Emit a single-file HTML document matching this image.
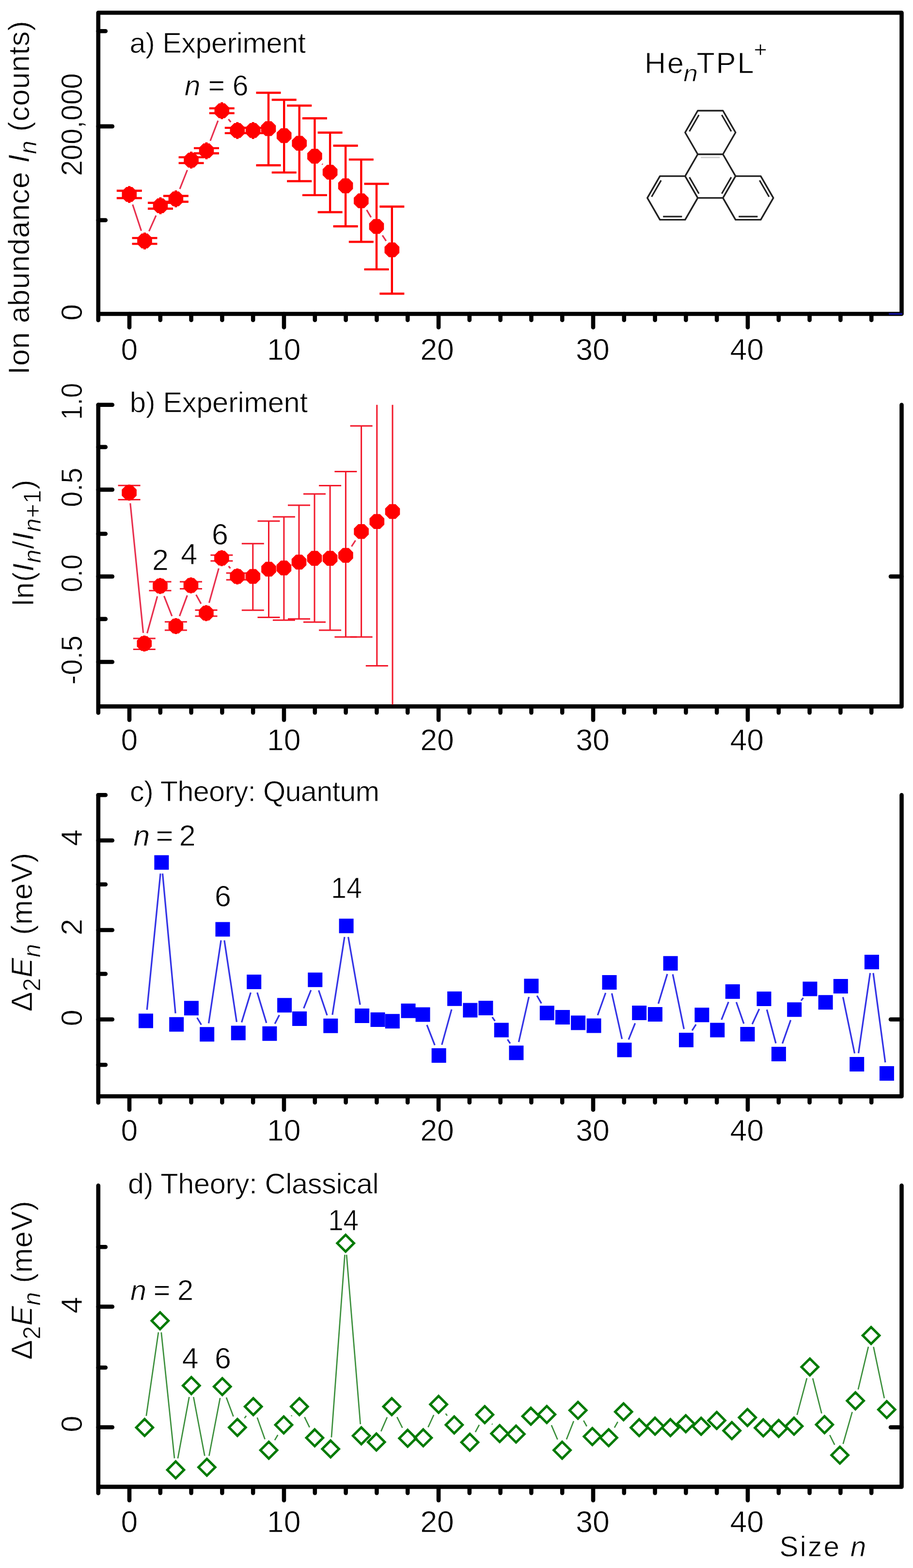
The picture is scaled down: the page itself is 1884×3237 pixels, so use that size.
<!DOCTYPE html>
<html><head><meta charset="utf-8"><title>He_nTPL+ ion abundance and energy differences</title>
<style>
html,body{margin:0;padding:0;background:#fff;}
svg{display:block;}
text{font-family:"Liberation Sans", Arial, sans-serif;fill:#000;stroke:#fff;stroke-width:0.8px;}
</style></head>
<body>
<svg width="1884" height="3237" viewBox="0 0 1884 3237">
<rect width="1884" height="3237" fill="#fff"/>
<path d="M202.8,661.0 L202.8,26.2 L1860.5,26.2 L1860.5,648.0 L202.8,648.0" fill="none" stroke="#000" stroke-width="8.6" stroke-linejoin="round" stroke-linecap="round"/>
<line x1="267.0" y1="648.0" x2="267.0" y2="675.7" stroke="#000" stroke-width="8.6" stroke-linecap="round" />
<line x1="330.8" y1="648.0" x2="330.8" y2="660.7" stroke="#000" stroke-width="8.6" stroke-linecap="round" />
<line x1="394.6" y1="648.0" x2="394.6" y2="660.7" stroke="#000" stroke-width="8.6" stroke-linecap="round" />
<line x1="458.4" y1="648.0" x2="458.4" y2="660.7" stroke="#000" stroke-width="8.6" stroke-linecap="round" />
<line x1="522.2" y1="648.0" x2="522.2" y2="660.7" stroke="#000" stroke-width="8.6" stroke-linecap="round" />
<line x1="586.0" y1="648.0" x2="586.0" y2="675.7" stroke="#000" stroke-width="8.6" stroke-linecap="round" />
<line x1="649.8" y1="648.0" x2="649.8" y2="660.7" stroke="#000" stroke-width="8.6" stroke-linecap="round" />
<line x1="713.6" y1="648.0" x2="713.6" y2="660.7" stroke="#000" stroke-width="8.6" stroke-linecap="round" />
<line x1="777.4" y1="648.0" x2="777.4" y2="660.7" stroke="#000" stroke-width="8.6" stroke-linecap="round" />
<line x1="841.2" y1="648.0" x2="841.2" y2="660.7" stroke="#000" stroke-width="8.6" stroke-linecap="round" />
<line x1="905.0" y1="648.0" x2="905.0" y2="675.7" stroke="#000" stroke-width="8.6" stroke-linecap="round" />
<line x1="968.8" y1="648.0" x2="968.8" y2="660.7" stroke="#000" stroke-width="8.6" stroke-linecap="round" />
<line x1="1032.6" y1="648.0" x2="1032.6" y2="660.7" stroke="#000" stroke-width="8.6" stroke-linecap="round" />
<line x1="1096.4" y1="648.0" x2="1096.4" y2="660.7" stroke="#000" stroke-width="8.6" stroke-linecap="round" />
<line x1="1160.2" y1="648.0" x2="1160.2" y2="660.7" stroke="#000" stroke-width="8.6" stroke-linecap="round" />
<line x1="1224.0" y1="648.0" x2="1224.0" y2="675.7" stroke="#000" stroke-width="8.6" stroke-linecap="round" />
<line x1="1287.8" y1="648.0" x2="1287.8" y2="660.7" stroke="#000" stroke-width="8.6" stroke-linecap="round" />
<line x1="1351.6" y1="648.0" x2="1351.6" y2="660.7" stroke="#000" stroke-width="8.6" stroke-linecap="round" />
<line x1="1415.4" y1="648.0" x2="1415.4" y2="660.7" stroke="#000" stroke-width="8.6" stroke-linecap="round" />
<line x1="1479.2" y1="648.0" x2="1479.2" y2="660.7" stroke="#000" stroke-width="8.6" stroke-linecap="round" />
<line x1="1543.0" y1="648.0" x2="1543.0" y2="675.7" stroke="#000" stroke-width="8.6" stroke-linecap="round" />
<line x1="1606.8" y1="648.0" x2="1606.8" y2="660.7" stroke="#000" stroke-width="8.6" stroke-linecap="round" />
<line x1="1670.6" y1="648.0" x2="1670.6" y2="660.7" stroke="#000" stroke-width="8.6" stroke-linecap="round" />
<line x1="1734.4" y1="648.0" x2="1734.4" y2="660.7" stroke="#000" stroke-width="8.6" stroke-linecap="round" />
<line x1="1798.2" y1="648.0" x2="1798.2" y2="660.7" stroke="#000" stroke-width="8.6" stroke-linecap="round" />
<line x1="202.8" y1="260.9" x2="231.8" y2="260.9" stroke="#000" stroke-width="8.6" stroke-linecap="round" />
<line x1="202.8" y1="64.2" x2="217.8" y2="64.2" stroke="#000" stroke-width="8.6" stroke-linecap="round" />
<line x1="202.8" y1="454.5" x2="217.8" y2="454.5" stroke="#000" stroke-width="8.6" stroke-linecap="round" />
<text x="267.0" y="743.2" font-size="62.5" text-anchor="middle">0</text>
<text x="585.8" y="743.2" font-size="62.5" text-anchor="middle">10</text>
<text x="902.1" y="743.2" font-size="62.5" text-anchor="middle">20</text>
<text x="1223.0" y="743.2" font-size="62.5" text-anchor="middle">30</text>
<text x="1541.2" y="743.2" font-size="62.5" text-anchor="middle">40</text>
<path d="M273.7,422.3L291.6,476.5M307.5,477.3L322.0,444.9M371.0,390.1L386.5,351.0M433.9,290.7L449.9,249.1M471.4,245.9L476.2,252.1M664.6,338.4L665.9,339.6M756.6,433.4L765.7,448.6M789.1,485.9L796.7,497.4" fill="none" stroke="#e8304e" stroke-width="3.2"/>
<line x1="266.8" y1="393.8" x2="266.8" y2="409.0" stroke="#ff0000" stroke-width="4.4" stroke-linecap="butt" />
<line x1="240.8" y1="393.8" x2="292.8" y2="393.8" stroke="#ff0000" stroke-width="4.4" stroke-linecap="butt" />
<line x1="240.8" y1="409.0" x2="292.8" y2="409.0" stroke="#ff0000" stroke-width="4.4" stroke-linecap="butt" />
<line x1="298.5" y1="491.4" x2="298.5" y2="503.4" stroke="#ff0000" stroke-width="4.4" stroke-linecap="butt" />
<line x1="272.5" y1="491.4" x2="324.5" y2="491.4" stroke="#ff0000" stroke-width="4.4" stroke-linecap="butt" />
<line x1="272.5" y1="503.4" x2="324.5" y2="503.4" stroke="#ff0000" stroke-width="4.4" stroke-linecap="butt" />
<line x1="331.0" y1="418.8" x2="331.0" y2="430.8" stroke="#ff0000" stroke-width="4.4" stroke-linecap="butt" />
<line x1="305.0" y1="418.8" x2="357.0" y2="418.8" stroke="#ff0000" stroke-width="4.4" stroke-linecap="butt" />
<line x1="305.0" y1="430.8" x2="357.0" y2="430.8" stroke="#ff0000" stroke-width="4.4" stroke-linecap="butt" />
<line x1="362.9" y1="404.5" x2="362.9" y2="416.5" stroke="#ff0000" stroke-width="4.4" stroke-linecap="butt" />
<line x1="336.9" y1="404.5" x2="388.9" y2="404.5" stroke="#ff0000" stroke-width="4.4" stroke-linecap="butt" />
<line x1="336.9" y1="416.5" x2="388.9" y2="416.5" stroke="#ff0000" stroke-width="4.4" stroke-linecap="butt" />
<line x1="394.6" y1="324.6" x2="394.6" y2="336.6" stroke="#ff0000" stroke-width="4.4" stroke-linecap="butt" />
<line x1="368.6" y1="324.6" x2="420.6" y2="324.6" stroke="#ff0000" stroke-width="4.4" stroke-linecap="butt" />
<line x1="368.6" y1="336.6" x2="420.6" y2="336.6" stroke="#ff0000" stroke-width="4.4" stroke-linecap="butt" />
<line x1="426.0" y1="305.9" x2="426.0" y2="316.5" stroke="#ff0000" stroke-width="4.4" stroke-linecap="butt" />
<line x1="400.0" y1="305.9" x2="452.0" y2="305.9" stroke="#ff0000" stroke-width="4.4" stroke-linecap="butt" />
<line x1="400.0" y1="316.5" x2="452.0" y2="316.5" stroke="#ff0000" stroke-width="4.4" stroke-linecap="butt" />
<line x1="457.8" y1="223.6" x2="457.8" y2="233.6" stroke="#ff0000" stroke-width="4.4" stroke-linecap="butt" />
<line x1="431.8" y1="223.6" x2="483.8" y2="223.6" stroke="#ff0000" stroke-width="4.4" stroke-linecap="butt" />
<line x1="431.8" y1="233.6" x2="483.8" y2="233.6" stroke="#ff0000" stroke-width="4.4" stroke-linecap="butt" />
<line x1="489.8" y1="263.9" x2="489.8" y2="274.9" stroke="#ff0000" stroke-width="4.4" stroke-linecap="butt" />
<line x1="463.8" y1="263.9" x2="515.8" y2="263.9" stroke="#ff0000" stroke-width="4.4" stroke-linecap="butt" />
<line x1="463.8" y1="274.9" x2="515.8" y2="274.9" stroke="#ff0000" stroke-width="4.4" stroke-linecap="butt" />
<line x1="522.2" y1="263.9" x2="522.2" y2="274.9" stroke="#ff0000" stroke-width="4.4" stroke-linecap="butt" />
<line x1="496.2" y1="263.9" x2="548.2" y2="263.9" stroke="#ff0000" stroke-width="4.4" stroke-linecap="butt" />
<line x1="496.2" y1="274.9" x2="548.2" y2="274.9" stroke="#ff0000" stroke-width="4.4" stroke-linecap="butt" />
<line x1="554.0" y1="191.5" x2="554.0" y2="341.3" stroke="#ff0000" stroke-width="4.4" stroke-linecap="butt" />
<line x1="528.5" y1="191.5" x2="579.5" y2="191.5" stroke="#ff0000" stroke-width="4.4" stroke-linecap="butt" />
<line x1="528.5" y1="341.3" x2="579.5" y2="341.3" stroke="#ff0000" stroke-width="4.4" stroke-linecap="butt" />
<line x1="586.2" y1="206.0" x2="586.2" y2="356.1" stroke="#ff0000" stroke-width="4.4" stroke-linecap="butt" />
<line x1="560.7" y1="206.0" x2="611.7" y2="206.0" stroke="#ff0000" stroke-width="4.4" stroke-linecap="butt" />
<line x1="560.7" y1="356.1" x2="611.7" y2="356.1" stroke="#ff0000" stroke-width="4.4" stroke-linecap="butt" />
<line x1="617.7" y1="218.0" x2="617.7" y2="374.0" stroke="#ff0000" stroke-width="4.4" stroke-linecap="butt" />
<line x1="592.2" y1="218.0" x2="643.2" y2="218.0" stroke="#ff0000" stroke-width="4.4" stroke-linecap="butt" />
<line x1="592.2" y1="374.0" x2="643.2" y2="374.0" stroke="#ff0000" stroke-width="4.4" stroke-linecap="butt" />
<line x1="649.4" y1="244.2" x2="649.4" y2="402.9" stroke="#ff0000" stroke-width="4.4" stroke-linecap="butt" />
<line x1="623.9" y1="244.2" x2="674.9" y2="244.2" stroke="#ff0000" stroke-width="4.4" stroke-linecap="butt" />
<line x1="623.9" y1="402.9" x2="674.9" y2="402.9" stroke="#ff0000" stroke-width="4.4" stroke-linecap="butt" />
<line x1="681.1" y1="273.8" x2="681.1" y2="438.0" stroke="#ff0000" stroke-width="4.4" stroke-linecap="butt" />
<line x1="655.6" y1="273.8" x2="706.6" y2="273.8" stroke="#ff0000" stroke-width="4.4" stroke-linecap="butt" />
<line x1="655.6" y1="438.0" x2="706.6" y2="438.0" stroke="#ff0000" stroke-width="4.4" stroke-linecap="butt" />
<line x1="713.1" y1="300.8" x2="713.1" y2="467.3" stroke="#ff0000" stroke-width="4.4" stroke-linecap="butt" />
<line x1="687.6" y1="300.8" x2="738.6" y2="300.8" stroke="#ff0000" stroke-width="4.4" stroke-linecap="butt" />
<line x1="687.6" y1="467.3" x2="738.6" y2="467.3" stroke="#ff0000" stroke-width="4.4" stroke-linecap="butt" />
<line x1="745.3" y1="329.4" x2="745.3" y2="499.3" stroke="#ff0000" stroke-width="4.4" stroke-linecap="butt" />
<line x1="719.8" y1="329.4" x2="770.8" y2="329.4" stroke="#ff0000" stroke-width="4.4" stroke-linecap="butt" />
<line x1="719.8" y1="499.3" x2="770.8" y2="499.3" stroke="#ff0000" stroke-width="4.4" stroke-linecap="butt" />
<line x1="777.0" y1="379.5" x2="777.0" y2="556.1" stroke="#ff0000" stroke-width="4.4" stroke-linecap="butt" />
<line x1="751.5" y1="379.5" x2="802.5" y2="379.5" stroke="#ff0000" stroke-width="4.4" stroke-linecap="butt" />
<line x1="751.5" y1="556.1" x2="802.5" y2="556.1" stroke="#ff0000" stroke-width="4.4" stroke-linecap="butt" />
<line x1="808.8" y1="426.5" x2="808.8" y2="606.2" stroke="#ff0000" stroke-width="4.4" stroke-linecap="butt" />
<line x1="783.3" y1="426.5" x2="834.3" y2="426.5" stroke="#ff0000" stroke-width="4.4" stroke-linecap="butt" />
<line x1="783.3" y1="606.2" x2="834.3" y2="606.2" stroke="#ff0000" stroke-width="4.4" stroke-linecap="butt" />
<path d="M282.1,407.7L273.1,416.7L260.5,416.7L251.5,407.7L251.5,395.1L260.5,386.1L273.1,386.1L282.1,395.1ZM313.8,503.7L304.8,512.7L292.2,512.7L283.2,503.7L283.2,491.1L292.2,482.1L304.8,482.1L313.8,491.1ZM346.3,431.1L337.3,440.1L324.7,440.1L315.7,431.1L315.7,418.5L324.7,409.5L337.3,409.5L346.3,418.5ZM378.2,416.8L369.2,425.8L356.6,425.8L347.6,416.8L347.6,404.2L356.6,395.2L369.2,395.2L378.2,404.2ZM409.9,336.9L400.9,345.9L388.3,345.9L379.3,336.9L379.3,324.3L388.3,315.3L400.9,315.3L409.9,324.3ZM441.3,317.5L432.3,326.5L419.7,326.5L410.7,317.5L410.7,304.9L419.7,295.9L432.3,295.9L441.3,304.9ZM473.1,234.9L464.1,243.9L451.5,243.9L442.5,234.9L442.5,222.3L451.5,213.3L464.1,213.3L473.1,222.3ZM505.1,275.7L496.1,284.7L483.5,284.7L474.5,275.7L474.5,263.1L483.5,254.1L496.1,254.1L505.1,263.1ZM537.5,275.7L528.5,284.7L515.9,284.7L506.9,275.7L506.9,263.1L515.9,254.1L528.5,254.1L537.5,263.1ZM569.3,271.8L560.3,280.8L547.7,280.8L538.7,271.8L538.7,259.2L547.7,250.2L560.3,250.2L569.3,259.2ZM601.5,286.3L592.5,295.3L579.9,295.3L570.9,286.3L570.9,273.7L579.9,264.7L592.5,264.7L601.5,273.7ZM633.0,302.1L624.0,311.1L611.4,311.1L602.4,302.1L602.4,289.5L611.4,280.5L624.0,280.5L633.0,289.5ZM664.7,328.8L655.7,337.8L643.1,337.8L634.1,328.8L634.1,316.2L643.1,307.2L655.7,307.2L664.7,316.2ZM696.4,361.8L687.4,370.8L674.8,370.8L665.8,361.8L665.8,349.2L674.8,340.2L687.4,340.2L696.4,349.2ZM728.4,389.9L719.4,398.9L706.8,398.9L697.8,389.9L697.8,377.3L706.8,368.3L719.4,368.3L728.4,377.3ZM760.6,420.8L751.6,429.8L739.0,429.8L730.0,420.8L730.0,408.2L739.0,399.2L751.6,399.2L760.6,408.2ZM792.3,473.8L783.3,482.8L770.7,482.8L761.7,473.8L761.7,461.2L770.7,452.2L783.3,452.2L792.3,461.2ZM824.1,522.1L815.1,531.1L802.5,531.1L793.5,522.1L793.5,509.5L802.5,500.5L815.1,500.5L824.1,509.5Z" fill="#ff0000"/>
<path d="M264.3,383.9h5v35.0h-5zM296.0,479.9h5v35.0h-5zM328.5,407.3h5v35.0h-5zM360.4,393.0h5v35.0h-5zM392.1,313.1h5v35.0h-5zM423.5,293.7h5v35.0h-5zM455.3,211.1h5v35.0h-5zM487.3,251.9h5v35.0h-5zM519.7,251.9h5v35.0h-5z" fill="#ff0000"/>
<path d="M1517.8,273.5L1491.8,318.5L1439.8,318.5L1413.8,273.5L1439.8,228.5L1491.8,228.5ZM1517.8,363.6L1491.8,408.6L1439.8,408.6L1413.8,363.6L1439.8,318.5L1491.8,318.5ZM1439.8,408.6L1413.8,453.6L1361.8,453.6L1335.8,408.6L1361.8,363.6L1413.8,363.6ZM1595.8,408.6L1569.8,453.6L1517.8,453.6L1491.8,408.6L1517.8,363.6L1569.8,363.6Z" fill="none" stroke="#222" stroke-width="3.4" stroke-linejoin="round"/>
<line x1="1422.6" y1="271.2" x2="1442.2" y2="237.3" stroke="#222" stroke-width="3.2"/>
<line x1="1489.4" y1="237.3" x2="1509.0" y2="271.2" stroke="#222" stroke-width="3.2"/>
<line x1="1446.2" y1="325.0" x2="1485.4" y2="325.0" stroke="#cfcfcf" stroke-width="3.2"/>
<line x1="1422.6" y1="365.9" x2="1442.2" y2="399.8" stroke="#222" stroke-width="3.2"/>
<line x1="1489.4" y1="399.8" x2="1509.0" y2="365.9" stroke="#222" stroke-width="3.2"/>
<line x1="1344.6" y1="406.3" x2="1364.2" y2="372.4" stroke="#222" stroke-width="3.2"/>
<line x1="1407.4" y1="447.1" x2="1368.2" y2="447.1" stroke="#222" stroke-width="3.2"/>
<line x1="1567.4" y1="372.4" x2="1587.0" y2="406.3" stroke="#222" stroke-width="3.2"/>
<line x1="1563.4" y1="447.1" x2="1524.2" y2="447.1" stroke="#222" stroke-width="3.2"/>
<line x1="1834.0" y1="648.0" x2="1862.0" y2="648.0" stroke="#10109a" stroke-width="3.5" stroke-linecap="butt" />
<path d="M202.8,1471.4 L202.8,835.8 M202.8,1458.4 L1860.5,1458.4 L1860.5,835.8" fill="none" stroke="#000" stroke-width="8.6" stroke-linejoin="round" stroke-linecap="round"/>
<line x1="267.0" y1="1458.4" x2="267.0" y2="1486.1" stroke="#000" stroke-width="8.6" stroke-linecap="round" />
<line x1="330.8" y1="1458.4" x2="330.8" y2="1471.1" stroke="#000" stroke-width="8.6" stroke-linecap="round" />
<line x1="394.6" y1="1458.4" x2="394.6" y2="1471.1" stroke="#000" stroke-width="8.6" stroke-linecap="round" />
<line x1="458.4" y1="1458.4" x2="458.4" y2="1471.1" stroke="#000" stroke-width="8.6" stroke-linecap="round" />
<line x1="522.2" y1="1458.4" x2="522.2" y2="1471.1" stroke="#000" stroke-width="8.6" stroke-linecap="round" />
<line x1="586.0" y1="1458.4" x2="586.0" y2="1486.1" stroke="#000" stroke-width="8.6" stroke-linecap="round" />
<line x1="649.8" y1="1458.4" x2="649.8" y2="1471.1" stroke="#000" stroke-width="8.6" stroke-linecap="round" />
<line x1="713.6" y1="1458.4" x2="713.6" y2="1471.1" stroke="#000" stroke-width="8.6" stroke-linecap="round" />
<line x1="777.4" y1="1458.4" x2="777.4" y2="1471.1" stroke="#000" stroke-width="8.6" stroke-linecap="round" />
<line x1="841.2" y1="1458.4" x2="841.2" y2="1471.1" stroke="#000" stroke-width="8.6" stroke-linecap="round" />
<line x1="905.0" y1="1458.4" x2="905.0" y2="1486.1" stroke="#000" stroke-width="8.6" stroke-linecap="round" />
<line x1="968.8" y1="1458.4" x2="968.8" y2="1471.1" stroke="#000" stroke-width="8.6" stroke-linecap="round" />
<line x1="1032.6" y1="1458.4" x2="1032.6" y2="1471.1" stroke="#000" stroke-width="8.6" stroke-linecap="round" />
<line x1="1096.4" y1="1458.4" x2="1096.4" y2="1471.1" stroke="#000" stroke-width="8.6" stroke-linecap="round" />
<line x1="1160.2" y1="1458.4" x2="1160.2" y2="1471.1" stroke="#000" stroke-width="8.6" stroke-linecap="round" />
<line x1="1224.0" y1="1458.4" x2="1224.0" y2="1486.1" stroke="#000" stroke-width="8.6" stroke-linecap="round" />
<line x1="1287.8" y1="1458.4" x2="1287.8" y2="1471.1" stroke="#000" stroke-width="8.6" stroke-linecap="round" />
<line x1="1351.6" y1="1458.4" x2="1351.6" y2="1471.1" stroke="#000" stroke-width="8.6" stroke-linecap="round" />
<line x1="1415.4" y1="1458.4" x2="1415.4" y2="1471.1" stroke="#000" stroke-width="8.6" stroke-linecap="round" />
<line x1="1479.2" y1="1458.4" x2="1479.2" y2="1471.1" stroke="#000" stroke-width="8.6" stroke-linecap="round" />
<line x1="1543.0" y1="1458.4" x2="1543.0" y2="1486.1" stroke="#000" stroke-width="8.6" stroke-linecap="round" />
<line x1="1606.8" y1="1458.4" x2="1606.8" y2="1471.1" stroke="#000" stroke-width="8.6" stroke-linecap="round" />
<line x1="1670.6" y1="1458.4" x2="1670.6" y2="1471.1" stroke="#000" stroke-width="8.6" stroke-linecap="round" />
<line x1="1734.4" y1="1458.4" x2="1734.4" y2="1471.1" stroke="#000" stroke-width="8.6" stroke-linecap="round" />
<line x1="1798.2" y1="1458.4" x2="1798.2" y2="1471.1" stroke="#000" stroke-width="8.6" stroke-linecap="round" />
<line x1="202.8" y1="835.7" x2="231.8" y2="835.7" stroke="#000" stroke-width="8.6" stroke-linecap="round" />
<line x1="202.8" y1="1010.9" x2="231.8" y2="1010.9" stroke="#000" stroke-width="8.6" stroke-linecap="round" />
<line x1="202.8" y1="1190.1" x2="231.8" y2="1190.1" stroke="#000" stroke-width="8.6" stroke-linecap="round" />
<line x1="202.8" y1="1366.5" x2="231.8" y2="1366.5" stroke="#000" stroke-width="8.6" stroke-linecap="round" />
<line x1="202.8" y1="922.9" x2="217.8" y2="922.9" stroke="#000" stroke-width="8.6" stroke-linecap="round" />
<line x1="202.8" y1="1102.0" x2="217.8" y2="1102.0" stroke="#000" stroke-width="8.6" stroke-linecap="round" />
<line x1="202.8" y1="1277.9" x2="217.8" y2="1277.9" stroke="#000" stroke-width="8.6" stroke-linecap="round" />
<line x1="1860.5" y1="1190.1" x2="1838.0" y2="1190.1" stroke="#000" stroke-width="8.6" stroke-linecap="round" />
<text x="267.0" y="1548.5" font-size="62.5" text-anchor="middle">0</text>
<text x="585.8" y="1548.5" font-size="62.5" text-anchor="middle">10</text>
<text x="902.1" y="1548.5" font-size="62.5" text-anchor="middle">20</text>
<text x="1223.0" y="1548.5" font-size="62.5" text-anchor="middle">30</text>
<text x="1541.2" y="1548.5" font-size="62.5" text-anchor="middle">40</text>
<path d="M268.8,1038.9L295.6,1306.6M303.6,1307.3L324.7,1231.0M338.5,1230.3L354.9,1272.0M370.5,1271.9L386.4,1229.1M404.6,1227.8L414.9,1246.4M431.5,1244.5L451.4,1173.4M471.7,1168.9L475.4,1173.3M725.4,1128.1L733.6,1115.6" fill="none" stroke="#e8304e" stroke-width="3.2"/>
<line x1="266.6" y1="1002.3" x2="266.6" y2="1031.6" stroke="#f2192b" stroke-width="3.0" stroke-linecap="butt" />
<line x1="243.6" y1="1002.3" x2="289.6" y2="1002.3" stroke="#f2192b" stroke-width="3.0" stroke-linecap="butt" />
<line x1="243.6" y1="1031.6" x2="289.6" y2="1031.6" stroke="#f2192b" stroke-width="3.0" stroke-linecap="butt" />
<line x1="297.8" y1="1317.9" x2="297.8" y2="1340.4" stroke="#f2192b" stroke-width="3.0" stroke-linecap="butt" />
<line x1="274.8" y1="1317.9" x2="320.8" y2="1317.9" stroke="#f2192b" stroke-width="3.0" stroke-linecap="butt" />
<line x1="274.8" y1="1340.4" x2="320.8" y2="1340.4" stroke="#f2192b" stroke-width="3.0" stroke-linecap="butt" />
<line x1="330.5" y1="1200.9" x2="330.5" y2="1219.3" stroke="#f2192b" stroke-width="3.0" stroke-linecap="butt" />
<line x1="307.5" y1="1200.9" x2="353.5" y2="1200.9" stroke="#f2192b" stroke-width="3.0" stroke-linecap="butt" />
<line x1="307.5" y1="1219.3" x2="353.5" y2="1219.3" stroke="#f2192b" stroke-width="3.0" stroke-linecap="butt" />
<line x1="362.9" y1="1283.7" x2="362.9" y2="1301.1" stroke="#f2192b" stroke-width="3.0" stroke-linecap="butt" />
<line x1="339.9" y1="1283.7" x2="385.9" y2="1283.7" stroke="#f2192b" stroke-width="3.0" stroke-linecap="butt" />
<line x1="339.9" y1="1301.1" x2="385.9" y2="1301.1" stroke="#f2192b" stroke-width="3.0" stroke-linecap="butt" />
<line x1="394.0" y1="1200.9" x2="394.0" y2="1215.6" stroke="#f2192b" stroke-width="3.0" stroke-linecap="butt" />
<line x1="371.0" y1="1200.9" x2="417.0" y2="1200.9" stroke="#f2192b" stroke-width="3.0" stroke-linecap="butt" />
<line x1="371.0" y1="1215.6" x2="417.0" y2="1215.6" stroke="#f2192b" stroke-width="3.0" stroke-linecap="butt" />
<line x1="425.5" y1="1259.6" x2="425.5" y2="1271.9" stroke="#f2192b" stroke-width="3.0" stroke-linecap="butt" />
<line x1="402.5" y1="1259.6" x2="448.5" y2="1259.6" stroke="#f2192b" stroke-width="3.0" stroke-linecap="butt" />
<line x1="402.5" y1="1271.9" x2="448.5" y2="1271.9" stroke="#f2192b" stroke-width="3.0" stroke-linecap="butt" />
<line x1="457.4" y1="1146.0" x2="457.4" y2="1158.0" stroke="#f2192b" stroke-width="3.0" stroke-linecap="butt" />
<line x1="434.4" y1="1146.0" x2="480.4" y2="1146.0" stroke="#f2192b" stroke-width="3.0" stroke-linecap="butt" />
<line x1="434.4" y1="1158.0" x2="480.4" y2="1158.0" stroke="#f2192b" stroke-width="3.0" stroke-linecap="butt" />
<line x1="489.7" y1="1183.0" x2="489.7" y2="1197.0" stroke="#f2192b" stroke-width="3.0" stroke-linecap="butt" />
<line x1="466.7" y1="1183.0" x2="512.7" y2="1183.0" stroke="#f2192b" stroke-width="3.0" stroke-linecap="butt" />
<line x1="466.7" y1="1197.0" x2="512.7" y2="1197.0" stroke="#f2192b" stroke-width="3.0" stroke-linecap="butt" />
<line x1="521.8" y1="1122.2" x2="521.8" y2="1259.7" stroke="#f2192b" stroke-width="3.0" stroke-linecap="butt" />
<line x1="498.8" y1="1122.2" x2="544.8" y2="1122.2" stroke="#f2192b" stroke-width="3.0" stroke-linecap="butt" />
<line x1="498.8" y1="1259.7" x2="544.8" y2="1259.7" stroke="#f2192b" stroke-width="3.0" stroke-linecap="butt" />
<line x1="554.5" y1="1075.8" x2="554.5" y2="1274.4" stroke="#f2192b" stroke-width="3.0" stroke-linecap="butt" />
<line x1="531.5" y1="1075.8" x2="577.5" y2="1075.8" stroke="#f2192b" stroke-width="3.0" stroke-linecap="butt" />
<line x1="531.5" y1="1274.4" x2="577.5" y2="1274.4" stroke="#f2192b" stroke-width="3.0" stroke-linecap="butt" />
<line x1="585.9" y1="1067.0" x2="585.9" y2="1280.3" stroke="#f2192b" stroke-width="3.0" stroke-linecap="butt" />
<line x1="562.9" y1="1067.0" x2="608.9" y2="1067.0" stroke="#f2192b" stroke-width="3.0" stroke-linecap="butt" />
<line x1="562.9" y1="1280.3" x2="608.9" y2="1280.3" stroke="#f2192b" stroke-width="3.0" stroke-linecap="butt" />
<line x1="617.0" y1="1043.0" x2="617.0" y2="1277.7" stroke="#f2192b" stroke-width="3.0" stroke-linecap="butt" />
<line x1="594.0" y1="1043.0" x2="640.0" y2="1043.0" stroke="#f2192b" stroke-width="3.0" stroke-linecap="butt" />
<line x1="594.0" y1="1277.7" x2="640.0" y2="1277.7" stroke="#f2192b" stroke-width="3.0" stroke-linecap="butt" />
<line x1="649.0" y1="1019.8" x2="649.0" y2="1284.2" stroke="#f2192b" stroke-width="3.0" stroke-linecap="butt" />
<line x1="626.0" y1="1019.8" x2="672.0" y2="1019.8" stroke="#f2192b" stroke-width="3.0" stroke-linecap="butt" />
<line x1="626.0" y1="1284.2" x2="672.0" y2="1284.2" stroke="#f2192b" stroke-width="3.0" stroke-linecap="butt" />
<line x1="681.1" y1="1002.6" x2="681.1" y2="1301.0" stroke="#f2192b" stroke-width="3.0" stroke-linecap="butt" />
<line x1="658.1" y1="1002.6" x2="704.1" y2="1002.6" stroke="#f2192b" stroke-width="3.0" stroke-linecap="butt" />
<line x1="658.1" y1="1301.0" x2="704.1" y2="1301.0" stroke="#f2192b" stroke-width="3.0" stroke-linecap="butt" />
<line x1="713.4" y1="973.4" x2="713.4" y2="1315.1" stroke="#f2192b" stroke-width="3.0" stroke-linecap="butt" />
<line x1="690.4" y1="973.4" x2="736.4" y2="973.4" stroke="#f2192b" stroke-width="3.0" stroke-linecap="butt" />
<line x1="690.4" y1="1315.1" x2="736.4" y2="1315.1" stroke="#f2192b" stroke-width="3.0" stroke-linecap="butt" />
<line x1="745.6" y1="879.3" x2="745.6" y2="1315.1" stroke="#f2192b" stroke-width="3.0" stroke-linecap="butt" />
<line x1="722.6" y1="879.3" x2="768.6" y2="879.3" stroke="#f2192b" stroke-width="3.0" stroke-linecap="butt" />
<line x1="722.6" y1="1315.1" x2="768.6" y2="1315.1" stroke="#f2192b" stroke-width="3.0" stroke-linecap="butt" />
<line x1="777.8" y1="835.8" x2="777.8" y2="1374.4" stroke="#f2192b" stroke-width="3.0" stroke-linecap="butt" />
<line x1="754.8" y1="1374.4" x2="800.8" y2="1374.4" stroke="#f2192b" stroke-width="3.0" stroke-linecap="butt" />
<line x1="810.0" y1="835.8" x2="810.0" y2="1454.4" stroke="#f2192b" stroke-width="3.0" stroke-linecap="butt" />
<path d="M281.9,1023.3L272.9,1032.3L260.3,1032.3L251.3,1023.3L251.3,1010.7L260.3,1001.7L272.9,1001.7L281.9,1010.7ZM313.1,1334.8L304.1,1343.8L291.5,1343.8L282.5,1334.8L282.5,1322.2L291.5,1313.2L304.1,1313.2L313.1,1322.2ZM345.8,1216.1L336.8,1225.1L324.2,1225.1L315.2,1216.1L315.2,1203.5L324.2,1194.5L336.8,1194.5L345.8,1203.5ZM378.2,1298.8L369.2,1307.8L356.6,1307.8L347.6,1298.8L347.6,1286.2L356.6,1277.2L369.2,1277.2L378.2,1286.2ZM409.3,1214.8L400.3,1223.8L387.7,1223.8L378.7,1214.8L378.7,1202.2L387.7,1193.2L400.3,1193.2L409.3,1202.2ZM440.8,1272.0L431.8,1281.0L419.2,1281.0L410.2,1272.0L410.2,1259.4L419.2,1250.4L431.8,1250.4L440.8,1259.4ZM472.7,1158.5L463.7,1167.5L451.1,1167.5L442.1,1158.5L442.1,1145.9L451.1,1136.9L463.7,1136.9L472.7,1145.9ZM505.0,1196.3L496.0,1205.3L483.4,1205.3L474.4,1196.3L474.4,1183.7L483.4,1174.7L496.0,1174.7L505.0,1183.7ZM537.1,1196.3L528.1,1205.3L515.5,1205.3L506.5,1196.3L506.5,1183.7L515.5,1174.7L528.1,1174.7L537.1,1183.7ZM569.8,1181.3L560.8,1190.3L548.2,1190.3L539.2,1181.3L539.2,1168.7L548.2,1159.7L560.8,1159.7L569.8,1168.7ZM601.2,1178.8L592.2,1187.8L579.6,1187.8L570.6,1178.8L570.6,1166.2L579.6,1157.2L592.2,1157.2L601.2,1166.2ZM632.3,1166.7L623.3,1175.7L610.7,1175.7L601.7,1166.7L601.7,1154.1L610.7,1145.1L623.3,1145.1L632.3,1154.1ZM664.3,1158.9L655.3,1167.9L642.7,1167.9L633.7,1158.9L633.7,1146.3L642.7,1137.3L655.3,1137.3L664.3,1146.3ZM696.4,1158.9L687.4,1167.9L674.8,1167.9L665.8,1158.9L665.8,1146.3L674.8,1137.3L687.4,1137.3L696.4,1146.3ZM728.7,1152.8L719.7,1161.8L707.1,1161.8L698.1,1152.8L698.1,1140.2L707.1,1131.2L719.7,1131.2L728.7,1140.2ZM760.9,1103.5L751.9,1112.5L739.3,1112.5L730.3,1103.5L730.3,1090.9L739.3,1081.9L751.9,1081.9L760.9,1090.9ZM793.1,1082.9L784.1,1091.9L771.5,1091.9L762.5,1082.9L762.5,1070.3L771.5,1061.3L784.1,1061.3L793.1,1070.3ZM825.3,1062.3L816.3,1071.3L803.7,1071.3L794.7,1062.3L794.7,1049.7L803.7,1040.7L816.3,1040.7L825.3,1049.7Z" fill="#ff0000"/>
<path d="M264.1,1000.5h5v33.0h-5zM295.3,1312.0h5v33.0h-5zM328.0,1193.3h5v33.0h-5zM360.4,1276.0h5v33.0h-5zM391.5,1192.0h5v33.0h-5zM423.0,1249.2h5v33.0h-5zM454.9,1135.7h5v33.0h-5zM487.2,1173.5h5v33.0h-5z" fill="#ff0000"/>
<path d="M202.8,2276.3 L202.8,1641.3 M202.8,2263.3 L1860.5,2263.3 L1860.5,1641.3" fill="none" stroke="#000" stroke-width="8.6" stroke-linejoin="round" stroke-linecap="round"/>
<line x1="267.0" y1="2263.3" x2="267.0" y2="2291.0" stroke="#000" stroke-width="8.6" stroke-linecap="round" />
<line x1="330.8" y1="2263.3" x2="330.8" y2="2276.0" stroke="#000" stroke-width="8.6" stroke-linecap="round" />
<line x1="394.6" y1="2263.3" x2="394.6" y2="2276.0" stroke="#000" stroke-width="8.6" stroke-linecap="round" />
<line x1="458.4" y1="2263.3" x2="458.4" y2="2276.0" stroke="#000" stroke-width="8.6" stroke-linecap="round" />
<line x1="522.2" y1="2263.3" x2="522.2" y2="2276.0" stroke="#000" stroke-width="8.6" stroke-linecap="round" />
<line x1="586.0" y1="2263.3" x2="586.0" y2="2291.0" stroke="#000" stroke-width="8.6" stroke-linecap="round" />
<line x1="649.8" y1="2263.3" x2="649.8" y2="2276.0" stroke="#000" stroke-width="8.6" stroke-linecap="round" />
<line x1="713.6" y1="2263.3" x2="713.6" y2="2276.0" stroke="#000" stroke-width="8.6" stroke-linecap="round" />
<line x1="777.4" y1="2263.3" x2="777.4" y2="2276.0" stroke="#000" stroke-width="8.6" stroke-linecap="round" />
<line x1="841.2" y1="2263.3" x2="841.2" y2="2276.0" stroke="#000" stroke-width="8.6" stroke-linecap="round" />
<line x1="905.0" y1="2263.3" x2="905.0" y2="2291.0" stroke="#000" stroke-width="8.6" stroke-linecap="round" />
<line x1="968.8" y1="2263.3" x2="968.8" y2="2276.0" stroke="#000" stroke-width="8.6" stroke-linecap="round" />
<line x1="1032.6" y1="2263.3" x2="1032.6" y2="2276.0" stroke="#000" stroke-width="8.6" stroke-linecap="round" />
<line x1="1096.4" y1="2263.3" x2="1096.4" y2="2276.0" stroke="#000" stroke-width="8.6" stroke-linecap="round" />
<line x1="1160.2" y1="2263.3" x2="1160.2" y2="2276.0" stroke="#000" stroke-width="8.6" stroke-linecap="round" />
<line x1="1224.0" y1="2263.3" x2="1224.0" y2="2291.0" stroke="#000" stroke-width="8.6" stroke-linecap="round" />
<line x1="1287.8" y1="2263.3" x2="1287.8" y2="2276.0" stroke="#000" stroke-width="8.6" stroke-linecap="round" />
<line x1="1351.6" y1="2263.3" x2="1351.6" y2="2276.0" stroke="#000" stroke-width="8.6" stroke-linecap="round" />
<line x1="1415.4" y1="2263.3" x2="1415.4" y2="2276.0" stroke="#000" stroke-width="8.6" stroke-linecap="round" />
<line x1="1479.2" y1="2263.3" x2="1479.2" y2="2276.0" stroke="#000" stroke-width="8.6" stroke-linecap="round" />
<line x1="1543.0" y1="2263.3" x2="1543.0" y2="2291.0" stroke="#000" stroke-width="8.6" stroke-linecap="round" />
<line x1="1606.8" y1="2263.3" x2="1606.8" y2="2276.0" stroke="#000" stroke-width="8.6" stroke-linecap="round" />
<line x1="1670.6" y1="2263.3" x2="1670.6" y2="2276.0" stroke="#000" stroke-width="8.6" stroke-linecap="round" />
<line x1="1734.4" y1="2263.3" x2="1734.4" y2="2276.0" stroke="#000" stroke-width="8.6" stroke-linecap="round" />
<line x1="1798.2" y1="2263.3" x2="1798.2" y2="2276.0" stroke="#000" stroke-width="8.6" stroke-linecap="round" />
<line x1="202.8" y1="1735.0" x2="231.8" y2="1735.0" stroke="#000" stroke-width="8.6" stroke-linecap="round" />
<line x1="202.8" y1="1920.0" x2="231.8" y2="1920.0" stroke="#000" stroke-width="8.6" stroke-linecap="round" />
<line x1="202.8" y1="2104.5" x2="231.8" y2="2104.5" stroke="#000" stroke-width="8.6" stroke-linecap="round" />
<line x1="202.8" y1="1641.3" x2="217.8" y2="1641.3" stroke="#000" stroke-width="8.6" stroke-linecap="round" />
<line x1="202.8" y1="1825.7" x2="217.8" y2="1825.7" stroke="#000" stroke-width="8.6" stroke-linecap="round" />
<line x1="202.8" y1="2010.5" x2="217.8" y2="2010.5" stroke="#000" stroke-width="8.6" stroke-linecap="round" />
<line x1="202.8" y1="2198.3" x2="217.8" y2="2198.3" stroke="#000" stroke-width="8.6" stroke-linecap="round" />
<line x1="1860.5" y1="2104.5" x2="1838.0" y2="2104.5" stroke="#000" stroke-width="8.6" stroke-linecap="round" />
<text x="267.0" y="2354.5" font-size="62.5" text-anchor="middle">0</text>
<text x="585.8" y="2354.5" font-size="62.5" text-anchor="middle">10</text>
<text x="902.1" y="2354.5" font-size="62.5" text-anchor="middle">20</text>
<text x="1223.0" y="2354.5" font-size="62.5" text-anchor="middle">30</text>
<text x="1541.2" y="2354.5" font-size="62.5" text-anchor="middle">40</text>
<path d="M303.3,2084.7L331.1,1803.4M335.5,1803.4L362.1,2091.8M406.7,2101.0L415.4,2115.5M430.6,2112.5L456.1,1941.2M462.9,1941.2L488.4,2109.7M498.6,2110.4L517.4,2049.1M530.8,2049.1L549.8,2111.8M567.1,2113.4L576.4,2095.6M626.7,2081.7L641.7,2044.0M657.6,2044.5L675.0,2096.0M685.9,2095.1L711.0,1934.3M718.6,1934.3L743.1,2074.3M880.9,2115.8L897.2,2157.7M911.7,2156.9L931.9,2083.9M1015.7,2099.8L1021.4,2107.7M1047.3,2145.8L1052.8,2154.2M1070.4,2151.1L1091.4,2058.0M1108.0,2055.5L1117.2,2071.4M1233.3,2095.7L1249.7,2049.8M1262.5,2050.6L1283.5,2144.9M1297.1,2146.1L1310.6,2112.3M1358.5,2072.1L1377.0,2010.8M1388.2,2011.3L1411.4,2124.4M1428.2,2127.4L1436.2,2114.8M1488.8,2105.1L1503.3,2068.4M1519.4,2068.7L1534.9,2113.3M1552.2,2114.2L1566.8,2082.9M1582.4,2084.3L1601.0,2153.8M1614.5,2154.3L1631.6,2105.9M1653.0,2065.8L1657.6,2059.9M1739.5,2058.4L1763.5,2174.5M1771.5,2174.2L1795.6,2008.7M1802.0,2008.7L1826.8,2193.2" fill="none" stroke="#3434e6" stroke-width="3.3"/>
<path d="M286.0,2092.6h30v30h-30zM318.4,1765.5h30v30h-30zM349.2,2099.7h30v30h-30zM379.9,2066.3h30v30h-30zM412.2,2120.2h30v30h-30zM444.5,1903.5h30v30h-30zM476.8,2117.4h30v30h-30zM509.2,2012.1h30v30h-30zM541.4,2118.8h30v30h-30zM572.1,2060.2h30v30h-30zM603.1,2088.0h30v30h-30zM635.3,2007.7h30v30h-30zM667.3,2102.8h30v30h-30zM699.6,1896.6h30v30h-30zM732.1,2082.0h30v30h-30zM764.5,2090.0h30v30h-30zM794.8,2093.2h30v30h-30zM827.5,2071.7h30v30h-30zM857.5,2079.4h30v30h-30zM890.6,2164.1h30v30h-30zM923.0,2046.7h30v30h-30zM955.3,2070.6h30v30h-30zM987.4,2066.0h30v30h-30zM1019.7,2111.5h30v30h-30zM1050.4,2158.5h30v30h-30zM1081.4,2020.6h30v30h-30zM1113.8,2076.3h30v30h-30zM1145.9,2085.0h30v30h-30zM1178.1,2096.5h30v30h-30zM1210.5,2102.4h30v30h-30zM1242.5,2013.1h30v30h-30zM1273.5,2152.4h30v30h-30zM1304.2,2076.0h30v30h-30zM1336.9,2079.1h30v30h-30zM1368.6,1973.8h30v30h-30zM1401.0,2131.9h30v30h-30zM1433.4,2080.3h30v30h-30zM1465.3,2111.5h30v30h-30zM1496.8,2032.0h30v30h-30zM1527.5,2120.0h30v30h-30zM1561.5,2047.1h30v30h-30zM1591.9,2161.0h30v30h-30zM1624.2,2069.2h30v30h-30zM1656.4,2026.5h30v30h-30zM1688.6,2054.2h30v30h-30zM1719.8,2020.9h30v30h-30zM1753.2,2182.0h30v30h-30zM1783.9,1970.9h30v30h-30zM1814.9,2201.0h30v30h-30z" fill="#0000ff"/>
<path d="M202.8,3082.4 L202.8,2447.5 M202.8,3069.4 L1860.5,3069.4 L1860.5,2447.5" fill="none" stroke="#000" stroke-width="8.6" stroke-linejoin="round" stroke-linecap="round"/>
<line x1="267.0" y1="3069.4" x2="267.0" y2="3097.1" stroke="#000" stroke-width="8.6" stroke-linecap="round" />
<line x1="330.8" y1="3069.4" x2="330.8" y2="3082.1" stroke="#000" stroke-width="8.6" stroke-linecap="round" />
<line x1="394.6" y1="3069.4" x2="394.6" y2="3082.1" stroke="#000" stroke-width="8.6" stroke-linecap="round" />
<line x1="458.4" y1="3069.4" x2="458.4" y2="3082.1" stroke="#000" stroke-width="8.6" stroke-linecap="round" />
<line x1="522.2" y1="3069.4" x2="522.2" y2="3082.1" stroke="#000" stroke-width="8.6" stroke-linecap="round" />
<line x1="586.0" y1="3069.4" x2="586.0" y2="3097.1" stroke="#000" stroke-width="8.6" stroke-linecap="round" />
<line x1="649.8" y1="3069.4" x2="649.8" y2="3082.1" stroke="#000" stroke-width="8.6" stroke-linecap="round" />
<line x1="713.6" y1="3069.4" x2="713.6" y2="3082.1" stroke="#000" stroke-width="8.6" stroke-linecap="round" />
<line x1="777.4" y1="3069.4" x2="777.4" y2="3082.1" stroke="#000" stroke-width="8.6" stroke-linecap="round" />
<line x1="841.2" y1="3069.4" x2="841.2" y2="3082.1" stroke="#000" stroke-width="8.6" stroke-linecap="round" />
<line x1="905.0" y1="3069.4" x2="905.0" y2="3097.1" stroke="#000" stroke-width="8.6" stroke-linecap="round" />
<line x1="968.8" y1="3069.4" x2="968.8" y2="3082.1" stroke="#000" stroke-width="8.6" stroke-linecap="round" />
<line x1="1032.6" y1="3069.4" x2="1032.6" y2="3082.1" stroke="#000" stroke-width="8.6" stroke-linecap="round" />
<line x1="1096.4" y1="3069.4" x2="1096.4" y2="3082.1" stroke="#000" stroke-width="8.6" stroke-linecap="round" />
<line x1="1160.2" y1="3069.4" x2="1160.2" y2="3082.1" stroke="#000" stroke-width="8.6" stroke-linecap="round" />
<line x1="1224.0" y1="3069.4" x2="1224.0" y2="3097.1" stroke="#000" stroke-width="8.6" stroke-linecap="round" />
<line x1="1287.8" y1="3069.4" x2="1287.8" y2="3082.1" stroke="#000" stroke-width="8.6" stroke-linecap="round" />
<line x1="1351.6" y1="3069.4" x2="1351.6" y2="3082.1" stroke="#000" stroke-width="8.6" stroke-linecap="round" />
<line x1="1415.4" y1="3069.4" x2="1415.4" y2="3082.1" stroke="#000" stroke-width="8.6" stroke-linecap="round" />
<line x1="1479.2" y1="3069.4" x2="1479.2" y2="3082.1" stroke="#000" stroke-width="8.6" stroke-linecap="round" />
<line x1="1543.0" y1="3069.4" x2="1543.0" y2="3097.1" stroke="#000" stroke-width="8.6" stroke-linecap="round" />
<line x1="1606.8" y1="3069.4" x2="1606.8" y2="3082.1" stroke="#000" stroke-width="8.6" stroke-linecap="round" />
<line x1="1670.6" y1="3069.4" x2="1670.6" y2="3082.1" stroke="#000" stroke-width="8.6" stroke-linecap="round" />
<line x1="1734.4" y1="3069.4" x2="1734.4" y2="3082.1" stroke="#000" stroke-width="8.6" stroke-linecap="round" />
<line x1="1798.2" y1="3069.4" x2="1798.2" y2="3082.1" stroke="#000" stroke-width="8.6" stroke-linecap="round" />
<line x1="202.8" y1="2697.5" x2="231.8" y2="2697.5" stroke="#000" stroke-width="8.6" stroke-linecap="round" />
<line x1="202.8" y1="2946.5" x2="231.8" y2="2946.5" stroke="#000" stroke-width="8.6" stroke-linecap="round" />
<line x1="202.8" y1="2574.2" x2="217.8" y2="2574.2" stroke="#000" stroke-width="8.6" stroke-linecap="round" />
<line x1="202.8" y1="2823.2" x2="217.8" y2="2823.2" stroke="#000" stroke-width="8.6" stroke-linecap="round" />
<line x1="1860.5" y1="2946.5" x2="1838.0" y2="2946.5" stroke="#000" stroke-width="8.6" stroke-linecap="round" />
<text x="267.0" y="3163.4" font-size="62.5" text-anchor="middle">0</text>
<text x="585.8" y="3163.4" font-size="62.5" text-anchor="middle">10</text>
<text x="902.1" y="3163.4" font-size="62.5" text-anchor="middle">20</text>
<text x="1223.0" y="3163.4" font-size="62.5" text-anchor="middle">30</text>
<text x="1541.2" y="3163.4" font-size="62.5" text-anchor="middle">40</text>
<path d="M301.8,2923.1L326.9,2750.4M332.8,2750.5L360.0,3010.5M366.9,3010.8L390.4,2884.0M399.3,2884.0L422.4,3005.4M431.4,3005.4L454.2,2886.1M467.0,2885.0L481.6,2924.3M504.5,2927.7L508.1,2922.9M530.7,2926.4L546.7,2971.2M566.9,2973.1L573.3,2962.3M601.1,2923.4L602.2,2922.0M628.4,2925.3L638.8,2946.7M683.9,2967.3L711.5,2590.4M715.1,2590.4L743.7,2940.2M786.2,2954.9L798.9,2925.8M819.2,2925.3L830.4,2947.7M883.4,2946.4L895.1,2921.0M919.6,2918.3L922.8,2922.5M980.9,2956.3L988.9,2941.5M1015.2,2939.3L1016.2,2940.6M1137.8,2942.1L1150.5,2971.8M1168.9,2971.5L1183.8,2933.8M1204.2,2932.6L1210.8,2944.5M1267.9,2947.2L1274.8,2935.3M1644.7,2921.0L1665.0,2845.2M1677.1,2845.3L1695.5,2917.8M1712.2,2962.5L1722.3,2982.6M1739.7,2980.9L1758.6,2914.9M1770.8,2868.5L1791.9,2780.3M1802.5,2780.5L1824.8,2886.5" fill="none" stroke="#3b8f3b" stroke-width="2.7"/>
<path d="M298.4,2929.6L315.7,2946.9L298.4,2964.2L281.1,2946.9ZM330.3,2709.3L347.6,2726.6L330.3,2743.9L313.0,2726.6ZM362.5,3017.1L379.8,3034.4L362.5,3051.7L345.2,3034.4ZM394.8,2843.1L412.1,2860.4L394.8,2877.7L377.5,2860.4ZM426.9,3011.7L444.2,3029.0L426.9,3046.3L409.6,3029.0ZM458.7,2845.2L476.0,2862.5L458.7,2879.8L441.4,2862.5ZM489.9,2929.5L507.2,2946.8L489.9,2964.1L472.6,2946.8ZM522.7,2886.5L540.0,2903.8L522.7,2921.1L505.4,2903.8ZM554.7,2976.5L572.0,2993.8L554.7,3011.1L537.4,2993.8ZM585.5,2924.3L602.8,2941.6L585.5,2958.9L568.2,2941.6ZM617.8,2886.5L635.1,2903.8L617.8,2921.1L600.5,2903.8ZM649.4,2950.9L666.7,2968.2L649.4,2985.5L632.1,2968.2ZM682.2,2973.9L699.5,2991.2L682.2,3008.5L664.9,2991.2ZM713.2,2549.2L730.5,2566.5L713.2,2583.8L695.9,2566.5ZM745.6,2946.8L762.9,2964.1L745.6,2981.4L728.3,2964.1ZM776.7,2959.6L794.0,2976.9L776.7,2994.2L759.4,2976.9ZM808.4,2886.5L825.7,2903.8L808.4,2921.1L791.1,2903.8ZM841.2,2951.9L858.5,2969.2L841.2,2986.5L823.9,2969.2ZM873.4,2950.9L890.7,2968.2L873.4,2985.5L856.1,2968.2ZM905.1,2881.9L922.4,2899.2L905.1,2916.5L887.8,2899.2ZM937.3,2924.3L954.6,2941.6L937.3,2958.9L920.0,2941.6ZM969.5,2960.1L986.8,2977.4L969.5,2994.7L952.2,2977.4ZM1000.3,2903.1L1017.6,2920.4L1000.3,2937.7L983.0,2920.4ZM1031.1,2942.2L1048.4,2959.5L1031.1,2976.8L1013.8,2959.5ZM1064.9,2943.2L1082.2,2960.5L1064.9,2977.8L1047.6,2960.5ZM1095.5,2906.4L1112.8,2923.7L1095.5,2941.0L1078.2,2923.7ZM1128.3,2902.8L1145.6,2920.1L1128.3,2937.4L1111.0,2920.1ZM1160.0,2976.5L1177.3,2993.8L1160.0,3011.1L1142.7,2993.8ZM1192.7,2894.2L1210.0,2911.5L1192.7,2928.8L1175.4,2911.5ZM1222.3,2948.3L1239.6,2965.6L1222.3,2982.9L1205.0,2965.6ZM1256.0,2950.7L1273.3,2968.0L1256.0,2985.3L1238.7,2968.0ZM1286.7,2897.2L1304.0,2914.5L1286.7,2931.8L1269.4,2914.5ZM1319.0,2929.9L1336.3,2947.2L1319.0,2964.5L1301.7,2947.2ZM1351.7,2926.9L1369.0,2944.2L1351.7,2961.5L1334.4,2944.2ZM1383.4,2929.9L1400.7,2947.2L1383.4,2964.5L1366.1,2947.2ZM1415.1,2921.8L1432.4,2939.1L1415.1,2956.4L1397.8,2939.1ZM1446.8,2927.1L1464.1,2944.4L1446.8,2961.7L1429.5,2944.4ZM1479.0,2915.1L1496.3,2932.4L1479.0,2949.7L1461.7,2932.4ZM1510.2,2936.1L1527.5,2953.4L1510.2,2970.7L1492.9,2953.4ZM1542.4,2909.0L1559.7,2926.3L1542.4,2943.6L1525.1,2926.3ZM1575.1,2930.4L1592.4,2947.7L1575.1,2965.0L1557.8,2947.7ZM1606.8,2931.5L1624.1,2948.8L1606.8,2966.1L1589.5,2948.8ZM1638.5,2926.9L1655.8,2944.2L1638.5,2961.5L1621.2,2944.2ZM1671.2,2804.7L1688.5,2822.0L1671.2,2839.3L1653.9,2822.0ZM1701.4,2923.8L1718.7,2941.1L1701.4,2958.4L1684.1,2941.1ZM1733.1,2986.7L1750.4,3004.0L1733.1,3021.3L1715.8,3004.0ZM1765.2,2874.5L1782.5,2891.8L1765.2,2909.1L1747.9,2891.8ZM1797.5,2739.7L1814.8,2757.0L1797.5,2774.3L1780.2,2757.0ZM1829.8,2892.7L1847.1,2910.0L1829.8,2927.3L1812.5,2910.0Z" fill="none" stroke="#007a00" stroke-width="5" stroke-linejoin="miter"/>
<text id="ta" x="267.40" y="109.40" font-size="59.4" textLength="363.69" lengthAdjust="spacing">a) Experiment</text>
<text id="tn6" x="380.80" y="197.20" font-size="59.0" textLength="131.89" lengthAdjust="spacing"><tspan font-style="italic">n</tspan> = 6</text>
<text id="tHe" x="1329.90" y="150.90" font-size="61.0" textLength="80.98" lengthAdjust="spacing">He</text>
<text id="tHn" x="1410.30" y="168.30" font-size="48.0" textLength="29.70" lengthAdjust="spacingAndGlyphs" font-style="italic">n</text>
<text id="tTPL" x="1437.60" y="150.90" font-size="61.0" textLength="117.88" lengthAdjust="spacing">TPL</text>
<text id="tplus" x="1555.40" y="118.00" font-size="47.0">+</text>
<text id="tb" x="267.80" y="851.30" font-size="59.8" textLength="367.22" lengthAdjust="spacing">b) Experiment</text>
<text id="b2" x="313.90" y="1176.80" font-size="61.0">2</text>
<text id="b4" x="373.20" y="1164.50" font-size="61.0">4</text>
<text id="b6" x="437.10" y="1123.60" font-size="61.0">6</text>
<text id="tc" x="268.10" y="1654.30" font-size="59.5" textLength="515.02" lengthAdjust="spacing">c) Theory: Quantum</text>
<text id="tn2c" x="275.30" y="1745.90" font-size="61.0" textLength="128.39" lengthAdjust="spacing"><tspan font-style="italic">n</tspan> = 2</text>
<text id="c6" x="443.00" y="1871.00" font-size="61.0">6</text>
<text id="c14" x="683.00" y="1854.00" font-size="61.0" textLength="63.86" lengthAdjust="spacingAndGlyphs">14</text>
<text id="td" x="264.00" y="2464.00" font-size="59.5" textLength="517.67" lengthAdjust="spacing">d) Theory: Classical</text>
<text id="d14" x="677.20" y="2540.00" font-size="61.0" textLength="62.86" lengthAdjust="spacingAndGlyphs">14</text>
<text id="tn2d" x="269.10" y="2684.10" font-size="59.5" textLength="130.00" lengthAdjust="spacing"><tspan font-style="italic">n</tspan> = 2</text>
<text id="d4" x="375.70" y="2824.60" font-size="61.0">4</text>
<text id="d6" x="442.90" y="2824.60" font-size="61.0">6</text>
<text id="tsize" x="1608.60" y="3213.10" font-size="58.5" textLength="178.61" lengthAdjust="spacing">Size <tspan font-style="italic">n</tspan></text>
<text id="ya200" transform="translate(168.80,363.30) rotate(-90)" font-size="61.5" textLength="212.31" lengthAdjust="spacingAndGlyphs">200,000</text>
<text id="ya0" transform="translate(168.60,661.90) rotate(-90)" font-size="61.5">0</text>
<text id="yb10" transform="translate(168.60,867.10) rotate(-90)" font-size="61.5" textLength="76.50" lengthAdjust="spacingAndGlyphs">1.0</text>
<text id="yb05" transform="translate(168.60,1047.10) rotate(-90)" font-size="61.5" textLength="81.70" lengthAdjust="spacingAndGlyphs">0.5</text>
<text id="yb00" transform="translate(168.60,1222.60) rotate(-90)" font-size="61.5" textLength="78.10" lengthAdjust="spacingAndGlyphs">0.0</text>
<text id="ybm05" transform="translate(168.60,1413.50) rotate(-90)" font-size="61.5" textLength="101.78" lengthAdjust="spacingAndGlyphs">-0.5</text>
<text id="yc4" transform="translate(168.60,1746.60) rotate(-90)" font-size="61.5">4</text>
<text id="yc2" transform="translate(168.60,1931.00) rotate(-90)" font-size="61.5">2</text>
<text id="yc0" transform="translate(168.60,2118.40) rotate(-90)" font-size="61.5">0</text>
<text id="yd4" transform="translate(168.80,2711.50) rotate(-90)" font-size="61.5">4</text>
<text id="yd0" transform="translate(168.60,2956.70) rotate(-90)" font-size="61.5">0</text>
<text id="yta" transform="translate(59.50,773.20) rotate(-90)" font-size="62.0" textLength="730.09" lengthAdjust="spacing">Ion abundance <tspan font-style="italic">I</tspan><tspan font-style="italic" font-size="50" dy="15">n</tspan><tspan dy="-15"> (counts)</tspan></text>
<text id="ytb" transform="translate(68.90,1250.70) rotate(-90)" font-size="61.5" textLength="260.43" lengthAdjust="spacing">ln(<tspan font-style="italic">I</tspan><tspan font-style="italic" font-size="50" dy="15">n</tspan><tspan dy="-15">/</tspan><tspan font-style="italic">I</tspan><tspan font-style="italic" font-size="50" dy="15">n</tspan><tspan font-size="50">+1</tspan><tspan dy="-15">)</tspan></text>
<text id="ytc" transform="translate(66.30,2088.20) rotate(-90)" font-size="61.0" textLength="327.46" lengthAdjust="spacing">Δ<tspan font-size="50" dy="17">2</tspan><tspan dy="-17" font-style="italic">E</tspan><tspan font-style="italic" font-size="50" dy="17">n</tspan><tspan dy="-17"> (meV)</tspan></text>
<text id="ytd" transform="translate(66.30,2806.90) rotate(-90)" font-size="61.0" textLength="327.66" lengthAdjust="spacing">Δ<tspan font-size="50" dy="17">2</tspan><tspan dy="-17" font-style="italic">E</tspan><tspan font-style="italic" font-size="50" dy="17">n</tspan><tspan dy="-17"> (meV)</tspan></text>
</svg>
</body></html>
